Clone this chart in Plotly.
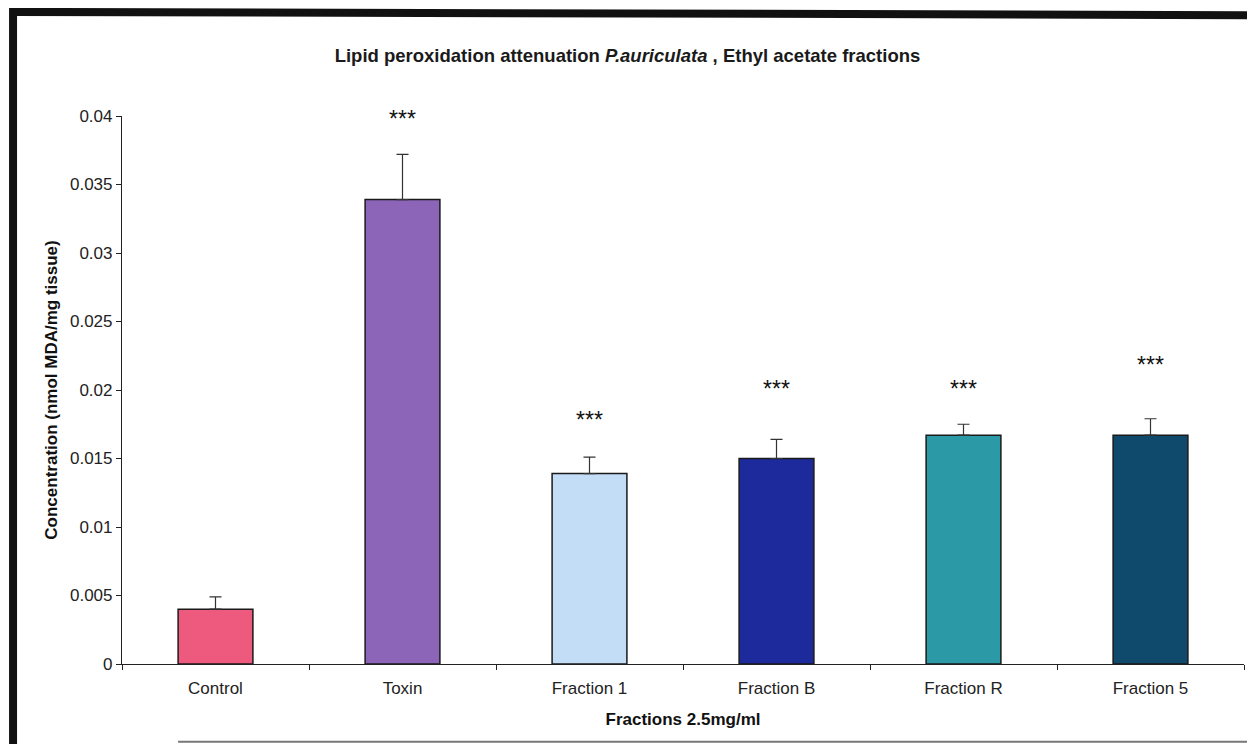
import plotly.graph_objects as go

categories = ["Control", "Toxin", "Fraction 1", "Fraction B", "Fraction R", "Fraction 5"]
means = [0.0040, 0.0339, 0.0139, 0.0150, 0.0167, 0.0167]
errors_plus = [0.0009, 0.0033, 0.0012, 0.0014, 0.0008, 0.0012]
bar_colors = ["#EE5A7E", "#8C64B8", "#C4DDF6", "#1C2A9C", "#2C9AA6", "#0F4A6C"]
stars = ["", "***", "***", "***", "***", "***"]
star_y = [0, 0.0398, 0.0178, 0.0201, 0.0201, 0.0218]
y_ticks = [0, 0.005, 0.01, 0.015, 0.02, 0.025, 0.03, 0.035, 0.04]
y_tick_text = ["0", "0.005", "0.01", "0.015", "0.02", "0.025", "0.03", "0.035", "0.04"]

font_main = "Arial, Liberation Sans, sans-serif"

fig = go.Figure()
fig.add_trace(go.Bar(
    x=categories, y=means, width=0.4,
    marker=dict(color=bar_colors, line=dict(color="#1a1a1a", width=1.5)),
    error_y=dict(type="data", array=errors_plus, arrayminus=[0]*len(means),
                 symmetric=False, color="#333333", thickness=1.2, width=6),
    showlegend=False,
))

for c, s, yv in zip(categories, stars, star_y):
    if s:
        fig.add_annotation(x=c, y=yv, text=s, showarrow=False,
                           font=dict(family=font_main, size=23, color="#111"),
                           xanchor="center", yanchor="middle")

fig.update_layout(
    width=1239, height=736,
    margin=dict(l=114, r=3, t=108, b=80),
    paper_bgcolor="white", plot_bgcolor="white",
    title=dict(text="<b>Lipid peroxidation attenuation <i>P.auriculata</i> , Ethyl acetate fractions</b>",
               x=0.5, xanchor="center", y=0.936, yanchor="middle",
               font=dict(family=font_main, size=18.5, color="#1a1a1a")),
    font=dict(family=font_main, size=16, color="#1a1a1a"),
)
fig.update_xaxes(
    showline=True, linecolor="#222", linewidth=1.2,
    ticks="outside", ticklen=5, tickcolor="#222", tickson="boundaries",
    showgrid=False, range=[-0.5, 5.5], ticklabelstandoff=8,
    tickfont=dict(size=17, color="#222"),
    title=dict(text="<b>Fractions 2.5mg/ml</b>", font=dict(size=17, color="#111"), standoff=16),
)
fig.update_yaxes(
    range=[0, 0.04], tickvals=y_ticks, ticktext=y_tick_text,
    showline=True, linecolor="#222", linewidth=1.2,
    ticks="outside", ticklen=5, tickcolor="#222",
    showgrid=False, zeroline=False,
    tickfont=dict(size=17, color="#222"),
    title=dict(text="<b>Concentration (nmol MDA/mg tissue)</b>", font=dict(size=17, color="#111"), standoff=8),
)

# scanned page border
fig.add_shape(type="line", xref="paper", yref="paper",
              x0=-0.0971, x1=1.01, y0=1.19, y1=1.184, line=dict(color="#111", width=8))
fig.add_shape(type="line", xref="paper", yref="paper",
              x0=-0.0971, x1=-0.0971, y0=1.2, y1=-0.17, line=dict(color="#111", width=8))
fig.add_shape(type="line", xref="paper", yref="paper",
              x0=0.05, x1=1.01, y0=-0.142, y1=-0.142, line=dict(color="#777", width=2))

fig.write_html("out.html")
